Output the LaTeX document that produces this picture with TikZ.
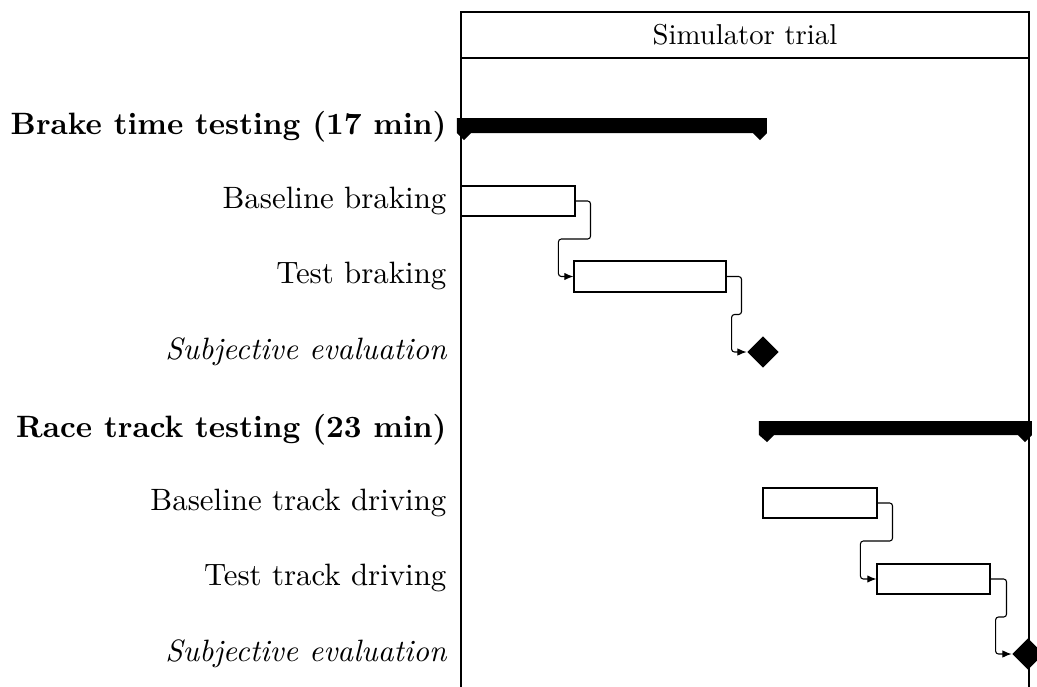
\documentclass[tikz,border=0pt]{standalone}
\usetikzlibrary{arrows.meta,shapes.geometric,fit,calc}
\begin{document}
\begin{tikzpicture}[x=0.348pt,y=-0.348pt,
  frame/.style={draw=black,line width=0.38pt},
  taskbar/.style={draw=black,fill=white,line width=0.38pt,inner sep=0pt},
  milestone/.style={diamond,fill=black,inner sep=0pt,minimum width=11pt,minimum height=11pt},
  groupbar/.style={fill=black},
  lbl/.style={anchor=east,inner sep=0pt,font=\fontsize{10.75}{13}\selectfont},
  link/.style={draw=black,line width=0.38pt,rounded corners=1pt,-{Latex[length=3.2pt,width=2.6pt]}}]
\useasboundingbox (0,0) rectangle (1037,687);
% frame
\draw[frame] (461,687) -- (461,12) -- (1029,12) -- (1029,687);
\draw[frame] (461,58) -- (1029,58);
\node[inner sep=0pt,font=\fontsize{10}{12}\selectfont] (title) at (745,35) {Simulator trial};
% labels
\node[lbl] (l1) at (447,127) {\bfseries Brake time testing (17 min)};
\node[lbl] (l2) at (447,201) {Baseline braking};
\node[lbl] (l3) at (447,276) {Test braking};
\node[lbl] (l4) at (447,352) {\itshape Subjective evaluation};
\node[lbl] (l5) at (447,430) {\bfseries Race track testing (23 min)};
\node[lbl] (l6) at (447,503) {Baseline track driving};
\node[lbl] (l7) at (447,578) {Test track driving};
\node[lbl] (l8) at (447,654) {\itshape Subjective evaluation};
% group bars
\path[groupbar] (457,118) -- (767,118) -- (767,133) -- (760,140) -- (753,133)
  -- (471,133) -- (464,140) -- (457,133) -- cycle;
\path[groupbar] (759,421) -- (1032,421) -- (1032,435) -- (1025,442) -- (1018,435)
  -- (774,435) -- (767,442) -- (759,435) -- cycle;
% tasks
\node[taskbar,fit={(461,186)(575,216)}] (bb) {};
\node[taskbar,fit={(574,261)(726,292)}] (tb) {};
\node[milestone] (m1) at (763,352) {};
\node[taskbar,fit={(763,488)(877,518)}] (btd) {};
\node[taskbar,fit={(877,564)(990,594)}] (ttd) {};
\node[milestone] (m2) at (1028,654) {};
% links
\draw[link] (bb.east) -- ++(15,0) -- ++(0,38) -| ($(tb.west)+(-15,0)$) -- (tb.west);
\draw[link] (tb.east) -- ++(15,0) -- ++(0,38) -| ($(m1.west)+(-15,0)$) -- (m1.west);
\draw[link] (btd.east) -- ++(15,0) -- ++(0,38) -| ($(ttd.west)+(-16,0)$) -- (ttd.west);
\draw[link] (ttd.east) -- ++(16,0) -- ++(0,38) -| ($(m2.west)+(-16,0)$) -- (m2.west);
\end{tikzpicture}
\end{document}
